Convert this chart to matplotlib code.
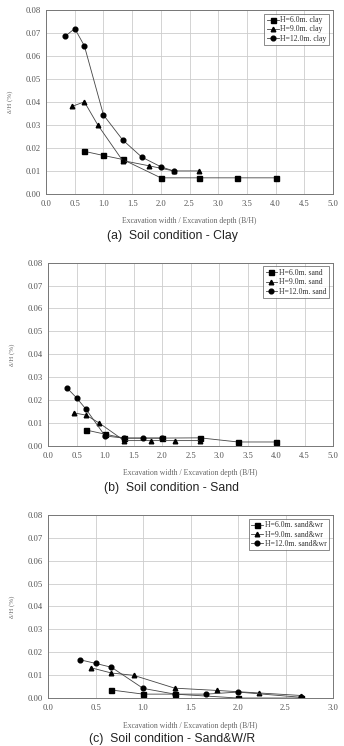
import matplotlib.pyplot as plt
import numpy as np

# -------- DATA --------
# (a) clay
clay_x6 = [0.667, 1.0, 1.333, 2.0, 2.667, 3.333, 4.0]
clay_y6 = [0.0185, 0.0167, 0.0150, 0.0070, 0.0070, 0.0070, 0.0070]
clay_x9 = [0.45, 0.667, 0.9, 1.333, 1.8, 2.222, 2.667]
clay_y9 = [0.038, 0.040, 0.030, 0.0145, 0.0122, 0.0100, 0.0100]
clay_x12 = [0.333, 0.5, 0.667, 1.0, 1.333, 1.667, 2.0, 2.222]
clay_y12 = [0.0685, 0.0718, 0.0643, 0.0343, 0.0235, 0.0160, 0.0118, 0.0100]

# (b) sand
sand_x6 = [0.667, 1.0, 1.333, 2.0, 2.667, 3.333, 4.0]
sand_y6 = [0.0070, 0.0052, 0.0035, 0.0035, 0.0036, 0.0018, 0.0018]
sand_x9 = [0.45, 0.667, 0.9, 1.333, 1.8, 2.222, 2.667]
sand_y9 = [0.0145, 0.0135, 0.0100, 0.0024, 0.0024, 0.0024, 0.0024]
sand_x12 = [0.333, 0.5, 0.667, 1.0, 1.333, 1.667, 2.0]
sand_y12 = [0.0253, 0.0210, 0.0160, 0.0044, 0.0035, 0.0035, 0.0035]

# (c) sand & weathered rock
swr_x6 = [0.667, 1.0, 1.333, 2.0, 2.667]
swr_y6 = [0.0036, 0.0018, 0.0018, 0.0001, 0.0001]
swr_x9 = [0.45, 0.667, 0.9, 1.333, 1.78, 2.222, 2.667]
swr_y9 = [0.0133, 0.0110, 0.0100, 0.0044, 0.0034, 0.0023, 0.0012]
swr_x12 = [0.333, 0.5, 0.667, 1.0, 1.333, 1.667, 2.0, 2.667]
swr_y12 = [0.0168, 0.0152, 0.0135, 0.0043, 0.0018, 0.0018, 0.0027, 0.0004]

panels = [
    ("clay", "(a)  Soil condition - Clay", 5.0,
     (clay_x6, clay_y6), (clay_x9, clay_y9), (clay_x12, clay_y12)),
    ("sand", "(b)  Soil condition - Sand", 5.0,
     (sand_x6, sand_y6), (sand_x9, sand_y9), (sand_x12, sand_y12)),
    ("sand&wr", "(c)  Soil condition - Sand&W/R", 3.0,
     (swr_x6, swr_y6), (swr_x9, swr_y9), (swr_x12, swr_y12)),
]

# axes boxes in figure fraction [left, bottom, width, height]
boxes = [
    [0.134, 0.740, 0.834, 0.247],
    [0.140, 0.402, 0.828, 0.246],
    [0.140, 0.064, 0.828, 0.246],
]
caption_y = [0.675, 0.338, 0.001]

serif = "Liberation Serif"
tick_col = "#555555"

fig = plt.figure(figsize=(3.44, 7.46), dpi=100)

for (soil, caption, xmax, s6, s9, s12), box, cy in zip(panels, boxes, caption_y):
    ax = fig.add_axes(box)
    ax.plot(*s6, color="#444444", lw=0.6, marker="s", ms=3.6, mfc="black", mec="black",
            label=f"H=6.0m. {soil}")
    ax.plot(*s9, color="#444444", lw=0.6, marker="^", ms=3.3, mfc="black", mec="black",
            label=f"H=9.0m. {soil}")
    ax.plot(*s12, color="#444444", lw=0.6, marker="o", ms=3.4, mfc="black", mec="black",
            label=f"H=12.0m. {soil}")

    ax.set_xlim(0, xmax)
    ax.set_ylim(0, 0.08)
    ax.set_xticks(np.arange(0, xmax + 0.01, 0.5))
    ax.set_yticks(np.arange(0, 0.081, 0.01))
    ax.set_xticklabels([f"{v:.1f}" for v in np.arange(0, xmax + 0.01, 0.5)])
    ax.set_yticklabels([f"{v:.2f}" for v in np.arange(0, 0.081, 0.01)])
    ax.grid(True, color="#cccccc", lw=0.6)
    ax.set_axisbelow(True)
    for sp in ax.spines.values():
        sp.set_color("#777777")
        sp.set_linewidth(0.7)
    ax.tick_params(length=0, pad=4, labelsize=6.2, labelcolor=tick_col)
    for lab in ax.get_xticklabels() + ax.get_yticklabels():
        lab.set_fontfamily(serif)

    ax.set_xlabel("Excavation width / Excavation depth (B/H)", fontsize=5.6,
                  family=serif, color="#666666", labelpad=7)
    ax.set_ylabel("δ/H (%)", fontsize=5, family=serif, color="#666666", labelpad=9)

    leg = ax.legend(loc="upper right", prop={"family": serif, "size": 5.6},
                    frameon=True, fancybox=False, borderpad=0.35, handlelength=1.5,
                    handletextpad=0.2, labelspacing=0.15, borderaxespad=0.5)
    leg.get_frame().set_edgecolor("#555555")
    leg.get_frame().set_linewidth(0.6)
    for t in leg.get_texts():
        t.set_color("#333333")

    fig.text(0.5, cy, caption, ha="center", va="bottom", fontsize=8.8,
             family="Liberation Sans", color="#222222")

fig.savefig("out.png", dpi=100)
